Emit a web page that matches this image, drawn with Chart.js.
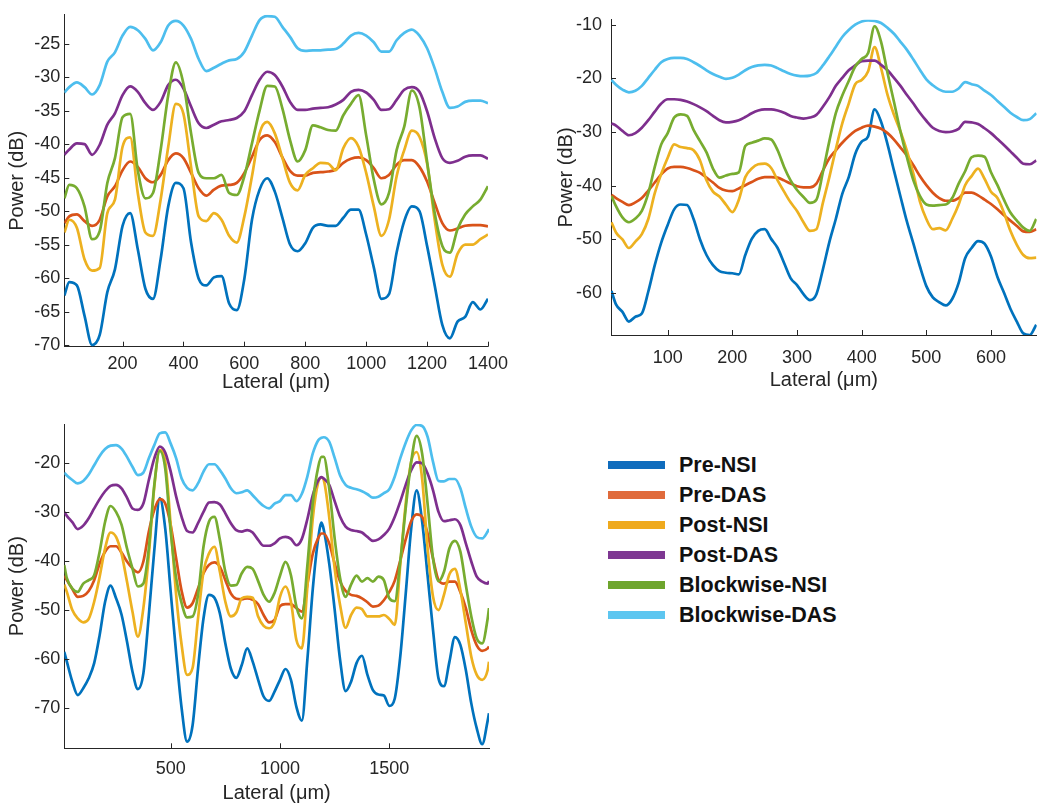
<!DOCTYPE html>
<html>
<head>
<meta charset="utf-8">
<script src="https://cdn.jsdelivr.net/npm/chart.js@4.4.1/dist/chart.umd.min.js"></script>
<style>
  html, body { margin: 0; padding: 0; background: #ffffff; width: 1050px; height: 810px; overflow: hidden; }
  canvas { position: absolute; }
  .lg-row { position: absolute; left: 608px; height: 26px; line-height: 26px; white-space: nowrap;
            font-family: 'Liberation Sans', Arial, sans-serif; font-weight: bold; font-size: 21.5px; color: #111; }
  .lg-bar { position: absolute; left: 0; top: 9px; width: 57px; height: 8px; }
  .lg-txt { position: absolute; left: 71px; top: 0; }
</style>
</head>
<body>
<canvas id="c1" width="515" height="400" style="left:0px;top:0px;width:515px;height:400px"></canvas>
<canvas id="c2" width="510" height="400" style="left:540px;top:0px;width:510px;height:400px"></canvas>
<canvas id="c3" width="515" height="405" style="left:0px;top:405px;width:515px;height:405px"></canvas>
<div id="legend"></div>
<script>
// ---------------- DATA ----------------
const seriesNames = ['Pre-NSI', 'Pre-DAS', 'Post-NSI', 'Post-DAS', 'Blockwise-NSI', 'Blockwise-DAS'];

// Panel 1 (top-left)
const p1Lateral = [9,25,50,75,100,125,150,175,200,225,250,275,300,325,350,375,400,425,450,475,500,525,550,575,600,625,650,675,700,725,750,775,800,825,850,875,900,925,950,975,1000,1025,1050,1075,1100,1125,1150,1175,1200,1225,1250,1275,1300,1325,1350,1375,1400];
const p1PreNSI = [-62.6,-60.6,-61.1,-65.6,-70.0,-68.5,-62.1,-58.7,-52.2,-50.3,-55.7,-61.6,-63.1,-57.2,-49.3,-45.8,-46.6,-54.7,-60.1,-61.1,-59.9,-59.7,-63.8,-64.8,-60.1,-51.3,-46.8,-45.1,-47.1,-51.0,-55.0,-56.0,-54.8,-52.5,-52.0,-52.2,-52.2,-51.0,-49.8,-49.8,-53.5,-58.4,-63.1,-62.4,-56.2,-51.5,-49.3,-50.0,-55.2,-61.1,-67.0,-69.0,-66.5,-65.8,-63.6,-64.7,-63.1];
const p1PreDAS = [-51.8,-50.8,-50.5,-51.5,-52.2,-51.3,-47.8,-46.3,-43.9,-42.6,-43.4,-45.1,-45.7,-44.6,-42.4,-41.4,-42.1,-44.3,-46.6,-47.7,-46.8,-46.2,-46.1,-45.8,-44.3,-41.9,-39.4,-38.7,-39.7,-42.0,-44.0,-44.7,-44.7,-44.3,-44.2,-44.1,-43.8,-42.8,-42.2,-42.0,-42.4,-43.6,-45.1,-44.6,-43.1,-42.4,-42.4,-43.4,-45.6,-48.8,-51.8,-52.9,-52.6,-52.2,-52.1,-52.1,-52.3];
const p1PostNSI = [-53.2,-51.3,-52.5,-57.2,-58.9,-58.5,-50.3,-48.3,-40.4,-39.0,-47.3,-53.2,-53.7,-48.3,-40.4,-34.0,-35.5,-43.4,-50.8,-51.5,-50.3,-51.3,-53.7,-54.7,-50.8,-44.8,-38.4,-36.7,-38.4,-42.1,-45.8,-46.9,-44.6,-43.6,-42.8,-42.9,-43.9,-40.6,-39.1,-40.4,-44.3,-49.3,-53.7,-51.3,-44.8,-40.9,-38.0,-38.9,-42.9,-51.3,-58.0,-59.8,-56.4,-55.0,-55.0,-54.2,-53.5];
const p1PostDAS = [-41.6,-40.8,-39.9,-40.0,-41.6,-40.1,-37.1,-35.4,-32.7,-31.4,-32.2,-33.9,-34.9,-33.7,-31.2,-30.4,-31.7,-34.4,-36.9,-37.6,-37.1,-36.6,-36.4,-36.1,-35.1,-32.7,-30.4,-29.2,-29.7,-31.4,-33.7,-34.9,-34.9,-34.7,-34.6,-34.5,-34.1,-33.4,-32.2,-31.9,-32.3,-33.4,-34.9,-34.8,-33.4,-31.9,-31.5,-32.2,-35.1,-39.1,-42.1,-42.8,-42.5,-41.9,-41.7,-41.7,-42.2];
const p1BlkNSI = [-48.1,-46.1,-46.6,-49.3,-54.2,-53.0,-45.8,-42.1,-36.0,-35.5,-43.9,-48.1,-47.3,-40.9,-32.7,-27.8,-31.0,-38.4,-44.3,-45.1,-45.1,-44.6,-47.3,-47.6,-44.8,-39.9,-35.0,-31.3,-31.4,-34.7,-39.4,-42.6,-40.9,-37.2,-37.5,-37.9,-38.0,-35.7,-34.0,-32.7,-38.7,-45.3,-49.0,-47.3,-40.9,-37.4,-32.0,-34.5,-42.6,-50.3,-55.2,-56.2,-52.7,-50.5,-49.3,-48.3,-46.3];
const p1BlkDAS = [-32.3,-31.5,-30.8,-31.5,-32.6,-31.2,-27.7,-26.3,-23.8,-22.5,-23.0,-24.3,-26.0,-24.8,-22.3,-21.6,-22.3,-24.3,-27.3,-29.1,-28.6,-28.0,-27.5,-27.3,-26.2,-23.8,-21.5,-20.9,-21.0,-22.5,-24.0,-25.7,-26.1,-26.0,-26.0,-25.9,-25.8,-25.0,-23.8,-23.4,-23.8,-24.8,-26.2,-26.2,-24.5,-23.4,-22.9,-23.8,-25.7,-28.7,-32.2,-34.6,-34.4,-33.7,-33.5,-33.5,-33.9];
const p1XTicks = [200, 400, 600, 800, 1000, 1200, 1400];
const p1YTicks = [-70, -65, -60, -55, -50, -45, -40, -35, -30, -25];

// Panel 2 (top-right)
const p2Lateral = [13,20,30,40,50,60,70,80,90,100,110,120,130,140,150,160,170,180,190,200,210,220,230,240,250,260,270,280,290,300,310,320,330,340,350,360,370,380,390,400,410,420,430,440,450,460,470,480,490,500,510,520,530,540,550,560,570,580,590,600,610,620,630,640,650,660,670];
const p2PreNSI = [-59.6,-62.1,-63.5,-65.3,-64.4,-63.8,-59.7,-54.8,-50.6,-47.3,-44.4,-43.5,-43.6,-46.2,-50.0,-52.9,-54.8,-55.9,-56.2,-56.3,-56.5,-52.9,-49.9,-48.4,-48.1,-49.9,-51.6,-54.4,-57.2,-58.5,-60.2,-61.3,-60.2,-55.6,-50.5,-46.2,-41.5,-38.4,-34.1,-31.8,-30.8,-25.8,-28.1,-32.3,-37.2,-42.0,-46.7,-50.8,-55.0,-58.7,-60.8,-61.7,-62.3,-61.1,-58.1,-53.5,-51.6,-50.3,-50.8,-53.2,-57.0,-59.9,-62.9,-65.3,-67.5,-67.8,-65.9];
const p2PreDAS = [-41.7,-42.3,-43.0,-43.6,-43.1,-42.3,-40.9,-39.4,-37.9,-36.8,-36.5,-36.5,-36.7,-37.1,-37.6,-38.5,-39.4,-40.4,-40.9,-41.0,-40.5,-39.9,-39.3,-38.7,-38.4,-38.4,-38.5,-39.0,-39.6,-40.1,-40.3,-40.3,-39.6,-37.2,-34.9,-33.4,-32.0,-30.8,-29.8,-29.2,-28.8,-29.0,-29.4,-30.2,-31.4,-32.9,-34.4,-36.2,-38.2,-39.9,-41.3,-42.3,-42.8,-42.8,-42.3,-41.3,-41.3,-41.8,-42.6,-43.4,-44.4,-45.5,-46.5,-47.5,-48.5,-48.6,-48.1];
const p2PostNSI = [-46.8,-48.7,-50.0,-51.6,-50.4,-49.0,-46.2,-41.4,-37.8,-34.8,-32.3,-32.8,-33.0,-33.4,-35.3,-39.0,-41.1,-42.0,-43.5,-44.9,-42.6,-38.4,-36.8,-36.0,-35.9,-36.7,-39.0,-41.1,-43.1,-44.7,-46.8,-48.4,-48.1,-43.2,-38.4,-33.2,-28.4,-24.7,-21.1,-20.3,-18.7,-14.2,-18.1,-23.1,-26.8,-29.9,-33.5,-37.8,-42.9,-46.2,-48.1,-47.9,-48.3,-46.2,-43.5,-39.9,-38.2,-36.8,-38.7,-41.1,-42.3,-45.0,-48.4,-51.0,-52.9,-53.5,-53.4];
const p2PostDAS = [-28.4,-28.8,-29.8,-30.6,-30.2,-29.2,-27.8,-26.2,-24.7,-23.9,-23.9,-24.0,-24.3,-24.8,-25.4,-26.1,-27.0,-27.8,-28.2,-28.1,-27.8,-27.2,-26.5,-26.0,-25.8,-25.8,-26.0,-26.4,-27.0,-27.3,-27.5,-27.3,-26.8,-25.3,-23.5,-21.4,-19.9,-18.5,-17.6,-16.8,-16.7,-16.7,-17.5,-18.5,-19.9,-21.4,-23.1,-24.7,-26.4,-27.9,-29.2,-29.8,-30.0,-29.9,-29.4,-28.1,-28.2,-28.5,-29.3,-30.2,-31.3,-32.4,-33.6,-34.8,-35.9,-36.0,-35.3];
const p2BlkNSI = [-41.9,-43.8,-45.9,-46.8,-46.1,-44.7,-41.4,-36.5,-32.3,-30.2,-27.3,-26.7,-27.0,-29.6,-31.7,-33.8,-36.8,-38.5,-38.1,-37.8,-37.5,-32.6,-32.0,-31.6,-31.2,-31.4,-33.4,-36.5,-39.0,-40.8,-42.1,-43.2,-42.6,-37.5,-31.7,-26.5,-23.2,-20.5,-17.8,-16.4,-15.3,-10.3,-13.2,-19.0,-24.4,-29.9,-34.7,-39.0,-41.9,-43.5,-43.7,-43.6,-43.5,-42.3,-39.6,-37.3,-34.7,-34.4,-34.6,-37.5,-39.9,-42.6,-45.0,-46.5,-47.8,-48.4,-46.2];
const p2BlkDAS = [-20.3,-21.2,-22.1,-22.6,-22.3,-21.4,-19.9,-18.4,-17.0,-16.4,-16.2,-16.2,-16.4,-17.0,-17.7,-18.5,-19.2,-19.7,-20.1,-19.9,-19.3,-18.5,-17.9,-17.6,-17.5,-17.6,-18.1,-18.7,-19.2,-19.5,-19.6,-19.5,-19.0,-17.6,-15.9,-14.1,-12.3,-11.0,-10.0,-9.4,-9.2,-9.3,-9.7,-10.6,-11.7,-13.2,-14.7,-16.5,-18.4,-20.2,-21.3,-22.1,-22.5,-22.5,-21.9,-20.7,-21.1,-21.4,-22.3,-23.1,-24.2,-25.3,-26.4,-27.2,-27.8,-27.6,-26.5];
const p2XTicks = [100, 200, 300, 400, 500, 600];
const p2YTicks = [-60, -50, -40, -30, -20, -10];

// Panel 3 (bottom-left)
const p3Lateral = [13,25,50,75,100,125,150,175,200,225,250,275,300,325,350,375,400,425,450,475,500,525,550,575,600,625,650,675,700,725,750,775,800,825,850,875,900,925,950,975,1000,1025,1050,1075,1100,1125,1150,1175,1190,1200,1225,1250,1275,1300,1325,1350,1375,1400,1425,1450,1475,1500,1525,1550,1575,1600,1625,1650,1675,1700,1725,1750,1775,1800,1825,1850,1875,1900,1925,1950,1956];
const p3PreNSI = [-58.5,-60.5,-64.6,-67.3,-65.9,-63.9,-60.8,-55.1,-48.3,-45.0,-47.6,-50.9,-56.4,-62.5,-66.1,-62.9,-51.0,-37.8,-27.2,-33.4,-46.3,-58.8,-70.0,-76.8,-73.5,-61.9,-51.7,-46.9,-47.5,-50.7,-56.8,-61.9,-63.8,-61.2,-57.8,-60.5,-64.2,-67.6,-68.5,-66.6,-64.2,-62.0,-64.2,-69.7,-72.5,-60.2,-45.7,-35.3,-32.2,-33.6,-40.5,-49.9,-60.2,-66.5,-64.6,-60.8,-59.3,-63.2,-66.3,-67.2,-67.4,-69.5,-68.0,-59.5,-46.7,-33.4,-25.6,-31.9,-42.9,-54.1,-63.9,-65.5,-60.5,-55.5,-57.1,-62.2,-69.0,-74.1,-77.3,-72.5,-71.0];
const p3PreDAS = [-43.0,-43.9,-45.7,-47.3,-47.1,-46.1,-43.9,-40.5,-38.1,-37.0,-37.0,-38.3,-40.1,-41.5,-42.3,-40.1,-34.0,-29.6,-27.4,-28.3,-32.7,-39.5,-46.1,-49.5,-48.6,-45.6,-42.5,-40.8,-40.3,-41.2,-43.9,-46.6,-47.7,-47.8,-47.6,-47.9,-48.8,-51.0,-52.5,-52.0,-49.2,-48.8,-48.8,-49.6,-50.3,-44.8,-38.5,-35.3,-34.4,-34.4,-36.4,-40.5,-44.2,-46.1,-46.9,-47.1,-47.6,-48.4,-49.3,-49.1,-48.0,-46.3,-44.0,-39.9,-35.6,-31.9,-30.5,-31.0,-34.4,-39.5,-43.9,-44.6,-44.2,-44.2,-46.3,-49.6,-54.1,-57.2,-58.3,-57.8,-57.4];
const p3PostNSI = [-44.8,-46.3,-50.0,-51.7,-52.5,-51.8,-48.3,-43.2,-37.4,-34.2,-35.1,-38.5,-44.2,-50.3,-55.4,-49.6,-38.8,-24.9,-17.4,-19.8,-32.7,-46.9,-57.1,-63.2,-61.8,-51.7,-42.2,-38.5,-37.1,-42.2,-48.3,-51.3,-50.5,-47.6,-47.3,-47.5,-51.3,-53.2,-53.7,-52.4,-47.3,-45.2,-48.3,-56.1,-57.8,-45.4,-31.3,-23.9,-23.0,-23.5,-31.0,-41.5,-49.0,-53.6,-51.0,-49.5,-49.8,-51.3,-51.3,-51.3,-51.0,-51.8,-53.0,-40.8,-28.3,-19.8,-17.8,-23.2,-37.4,-47.3,-50.0,-46.9,-42.7,-41.6,-45.9,-52.7,-59.5,-63.2,-64.2,-62.2,-60.5];
const p3PostDAS = [-30.0,-30.8,-32.1,-33.5,-32.8,-31.3,-29.3,-27.4,-25.8,-24.7,-24.5,-25.2,-27.1,-29.3,-29.6,-28.3,-23.5,-19.1,-16.7,-17.9,-21.8,-26.9,-31.0,-33.9,-34.2,-32.3,-30.0,-28.1,-28.0,-28.5,-30.3,-32.3,-33.7,-34.0,-33.7,-34.2,-35.7,-36.9,-36.9,-36.4,-35.4,-35.1,-35.5,-36.8,-35.5,-31.5,-26.6,-23.6,-22.9,-23.2,-24.5,-27.8,-31.0,-33.0,-33.7,-33.9,-34.2,-35.1,-35.9,-35.6,-34.7,-33.4,-31.0,-27.9,-24.5,-21.5,-19.9,-20.1,-22.2,-25.6,-30.0,-31.9,-31.7,-31.5,-32.7,-36.4,-40.1,-43.2,-44.2,-44.6,-44.1];
const p3BlkNSI = [-40.8,-43.5,-45.6,-46.3,-44.6,-43.9,-42.9,-38.1,-32.0,-28.8,-30.0,-32.6,-37.4,-41.5,-45.2,-44.6,-37.4,-24.5,-17.6,-21.2,-34.0,-43.5,-48.6,-51.5,-51.3,-46.9,-37.1,-32.0,-31.0,-35.7,-42.2,-45.0,-44.9,-42.5,-41.2,-41.6,-44.1,-46.9,-48.3,-46.5,-43.0,-40.2,-42.9,-49.3,-51.7,-41.0,-28.1,-20.8,-18.8,-18.8,-25.2,-35.4,-43.5,-47.3,-44.8,-43.0,-44.2,-43.5,-44.2,-43.2,-43.9,-47.6,-48.2,-40.1,-29.3,-19.8,-14.5,-18.1,-28.3,-39.5,-44.1,-42.2,-37.4,-35.9,-38.1,-44.9,-51.3,-55.8,-56.8,-51.7,-49.6];
const p3BlkDAS = [-22.0,-22.6,-23.5,-24.2,-23.7,-22.4,-20.5,-18.6,-17.2,-16.5,-16.4,-17.1,-18.8,-20.8,-22.5,-22.0,-19.1,-16.4,-14.0,-13.8,-16.1,-19.1,-23.2,-25.1,-25.6,-24.2,-21.8,-20.3,-20.3,-21.5,-23.2,-25.2,-26.2,-26.0,-25.6,-26.6,-27.8,-28.8,-29.3,-28.3,-27.8,-26.6,-26.6,-27.8,-26.3,-22.8,-18.1,-15.4,-14.9,-14.8,-15.7,-19.0,-22.6,-24.5,-25.1,-25.4,-25.8,-26.4,-27.1,-26.9,-26.2,-25.4,-22.8,-19.1,-15.9,-13.4,-12.3,-12.5,-14.7,-19.8,-23.7,-23.8,-23.3,-23.3,-25.2,-29.3,-33.0,-35.1,-35.4,-34.0,-33.5];
const p3XTicks = [500, 1000, 1500];
const p3YTicks = [-70, -60, -50, -40, -30, -20];

// ---------------- STYLE ----------------
const lineColors = ['#0072BD', '#D95319', '#EDB120', '#7E2F8E', '#77AC30', '#4DBEEE'];
const legendColors = ['#0f6cbd', '#e06b3c', '#efaa1e', '#7e3792', '#6ea52d', '#5dc6f0'];
const axisColor = '#262626';
const FONT = "'Liberation Sans', Arial, Helvetica, sans-serif";
Chart.defaults.font.family = FONT;
Chart.defaults.color = axisColor;

const inwardTicks = {
  id: 'inwardTicks',
  afterDatasetsDraw(chart) {
    const { ctx, chartArea: a, scales: { x, y } } = chart;
    ctx.save();
    ctx.strokeStyle = axisColor;
    ctx.lineWidth = 1;
    ctx.beginPath();
    x.ticks.forEach(t => {
      const px = Math.round(x.getPixelForValue(t.value)) + 0.5;
      ctx.moveTo(px, a.bottom); ctx.lineTo(px, a.bottom - 5);
    });
    y.ticks.forEach(t => {
      const py = Math.round(y.getPixelForValue(t.value)) + 0.5;
      ctx.moveTo(a.left, py); ctx.lineTo(a.left + 5, py);
    });
    ctx.stroke();
    ctx.restore();
  }
};

function makeChart(id, lateral, seriesValues, xTicks, yTicks, xr, yr, lay) {
  const datasets = seriesValues.map((vals, i) => ({
    label: seriesNames[i],
    data: lateral.map((x, k) => ({ x: x, y: vals[k] })),
    borderColor: lineColors[i],
    backgroundColor: lineColors[i],
    borderWidth: 2.7,
    pointRadius: 0,
    fill: false,
    cubicInterpolationMode: 'monotone',
    order: seriesValues.length - 1 - i
  }));
  return new Chart(document.getElementById(id), {
    type: 'line',
    data: { datasets },
    options: {
      responsive: false,
      animation: false,
      events: [],
      layout: { padding: lay.pad },
      plugins: { legend: { display: false }, tooltip: { enabled: false } },
      scales: {
        x: {
          type: 'linear', min: xr[0], max: xr[1],
          afterBuildTicks: s => { s.ticks = xTicks.map(v => ({ value: v })); },
          afterFit: s => { s.height = lay.xH; },
          grid: { display: true, drawOnChartArea: false, drawTicks: false },
          border: { display: true, color: axisColor, width: 1 },
          ticks: { padding: lay.xTickPad, color: axisColor, font: { size: 18 }, maxRotation: 0, autoSkip: false, callback: v => String(v) },
          title: { display: true, text: 'Lateral (μm)', color: axisColor, font: { size: 20 }, padding: 0 }
        },
        y: {
          type: 'linear', min: yr[0], max: yr[1],
          afterBuildTicks: s => { s.ticks = yTicks.map(v => ({ value: v })); },
          afterFit: s => { s.width = lay.yW; },
          grid: { display: true, drawOnChartArea: false, drawTicks: false },
          border: { display: true, color: axisColor, width: 1 },
          ticks: { padding: lay.yTickPad, color: axisColor, font: { size: 18 }, autoSkip: false, callback: v => String(v) },
          title: { display: true, text: 'Power (dB)', color: axisColor, font: { size: 20 }, padding: 0 }
        }
      }
    },
    plugins: [inwardTicks]
  });
}

makeChart('c1', p1Lateral, [p1PreNSI, p1PreDAS, p1PostNSI, p1PostDAS, p1BlkNSI, p1BlkDAS],
  p1XTicks, p1YTicks, [8.7, 1400], [-70.25, -20.7],
  { pad: { left: 5.5, top: 12.7, right: 26, bottom: 5.3 }, yW: 58.8, xH: 48, xTickPad: 7, yTickPad: 4 });

makeChart('c2', p2Lateral, [p2PreNSI, p2PreDAS, p2PostNSI, p2PostDAS, p2BlkNSI, p2BlkDAS],
  p2XTicks, p2YTicks, [12.3, 670.7], [-67.8, -9.1],
  { pad: { left: 14, top: 12.7, right: 13.3, bottom: 8 }, yW: 57, xH: 57, xTickPad: 12, yTickPad: 9 });

makeChart('c3', p3Lateral, [p3PreNSI, p3PreDAS, p3PostNSI, p3PostDAS, p3BlkNSI, p3BlkDAS],
  p3XTicks, p3YTicks, [13.3, 1956], [-78.15, -12.1],
  { pad: { left: 5, top: 19, right: 26, bottom: 4.7 }, yW: 59.3, xH: 57, xTickPad: 10, yTickPad: 4 });

// ---------------- LEGEND ----------------
const legend = document.getElementById('legend');
seriesNames.forEach((name, i) => {
  const row = document.createElement('div');
  row.className = 'lg-row';
  row.style.top = (465 + 30 * i - 13) + 'px';
  const bar = document.createElement('span');
  bar.className = 'lg-bar';
  bar.style.background = legendColors[i];
  const txt = document.createElement('span');
  txt.className = 'lg-txt';
  txt.textContent = name;
  row.appendChild(bar); row.appendChild(txt);
  legend.appendChild(row);
});
</script>
</body>
</html>
